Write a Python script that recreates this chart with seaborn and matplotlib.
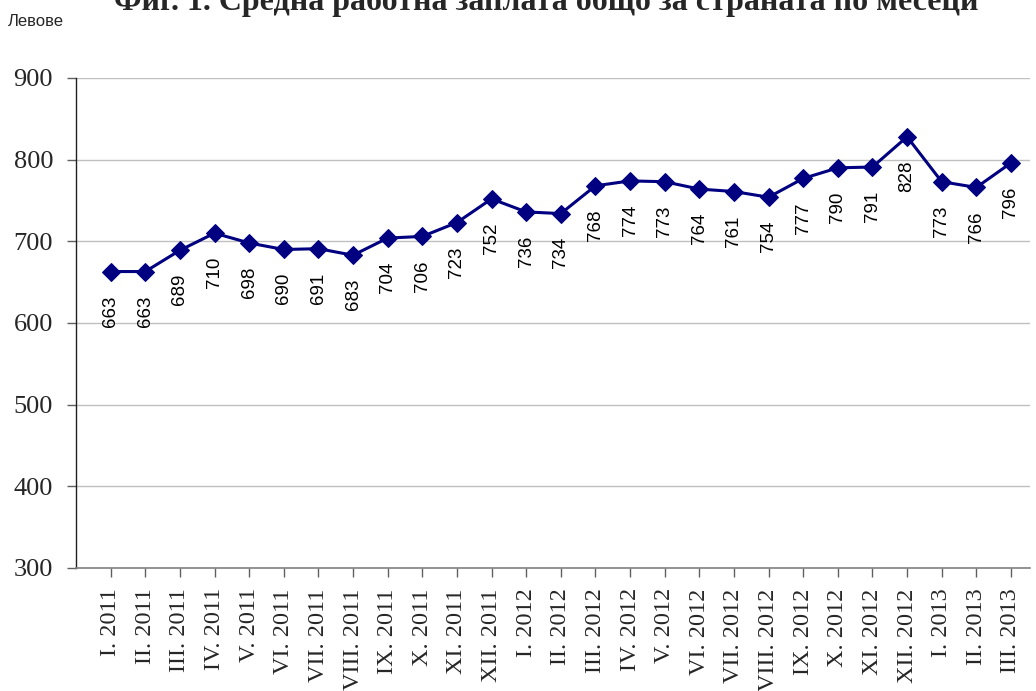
import matplotlib
matplotlib.use("Agg")
import matplotlib.pyplot as plt
import seaborn as sns
import pandas as pd

months = ["I. 2011", "II. 2011", "III. 2011", "IV. 2011", "V. 2011", "VI. 2011",
          "VII. 2011", "VIII. 2011", "IX. 2011", "X. 2011", "XI. 2011", "XII. 2011",
          "I. 2012", "II. 2012", "III. 2012", "IV. 2012", "V. 2012", "VI. 2012",
          "VII. 2012", "VIII. 2012", "IX. 2012", "X. 2012", "XI. 2012", "XII. 2012",
          "I. 2013", "II. 2013", "III. 2013"]
wages = [663, 663, 689, 710, 698, 690, 691, 683, 704, 706, 723, 752, 736, 734,
         768, 774, 773, 764, 761, 754, 777, 790, 791, 828, 773, 766, 796]
y_ticks = [300, 400, 500, 600, 700, 800, 900]

title = "Фиг. 1. Средна работна заплата общо за страната по месеци"
unit_label = "Левове"

sns.set_theme(style="white")
plt.rcParams['font.family'] = ['Liberation Serif', 'DejaVu Serif']

df = pd.DataFrame({"pos": range(len(months)), "wage": wages})

fig = plt.figure(figsize=(10.36, 6.91), dpi=100)
ax = fig.add_axes([76/1036, 1-568/691, (1030-76)/1036, (568-78)/691])

sns.lineplot(data=df, x="pos", y="wage", ax=ax, color="#000080", lw=2.2,
             marker="D", markersize=9.5, markeredgecolor="#000080")

for i, v in enumerate(wages):
    ax.annotate(str(v), (i, v), xytext=(0, -17), textcoords="offset points",
                rotation=90, ha="center", va="top", fontsize=13.5,
                family="Liberation Sans", color="black")

ax.set_xlim(-1, len(months) - 0.45)
ax.set_ylim(300, 900)
ax.set_yticks(y_ticks)
ax.set_yticklabels([str(t) for t in y_ticks], fontsize=19)
ax.set_xticks(range(len(months)))
ax.set_xticklabels(months, rotation=90, fontsize=17.5)
ax.set_xlabel("")
ax.set_ylabel("")
ax.yaxis.grid(True, color="#c0c0c0", lw=1)
ax.xaxis.grid(False)
for s in ["top", "right"]:
    ax.spines[s].set_visible(False)
ax.spines["left"].set_color("#202020")
ax.spines["left"].set_linewidth(1.0)
ax.spines["bottom"].set_color("#808080")
ax.spines["bottom"].set_linewidth(1.2)
ax.tick_params(axis="both", which="both", direction="out", length=6.5, width=1,
               color="#606060", bottom=True, left=True)
ax.tick_params(axis="y", pad=10)
ax.tick_params(axis="x", pad=8)

fig.text(546/1036, 1 - 10/691, title, ha="center", va="baseline",
         fontsize=23, fontweight="bold")
fig.text(8/1036, 1 - 22/691, unit_label, ha="left", va="center",
         fontsize=12, family="Liberation Sans")

fig.savefig("out.png", dpi=100)
